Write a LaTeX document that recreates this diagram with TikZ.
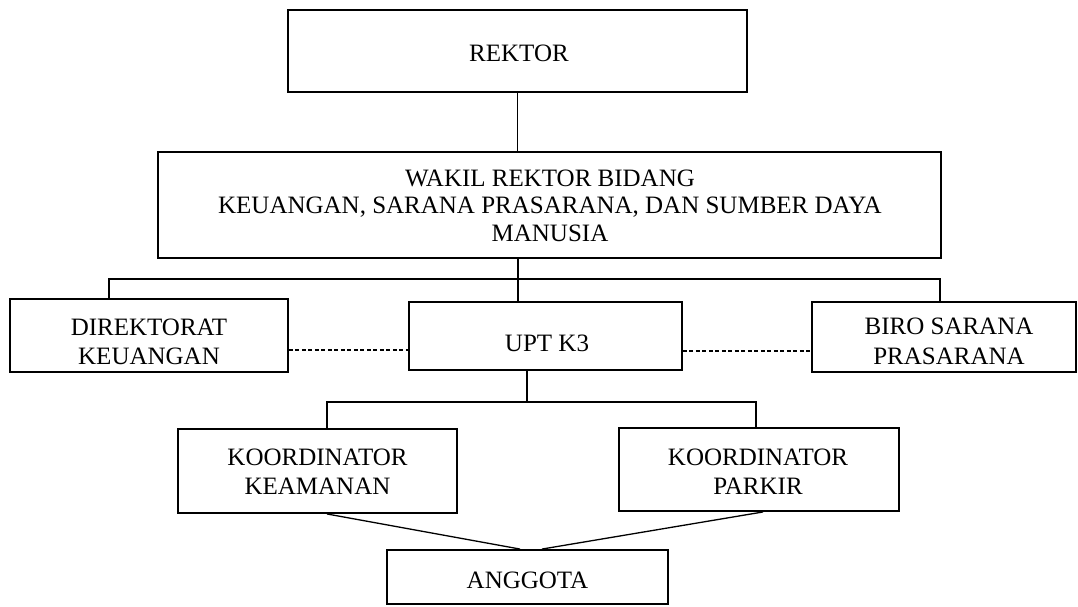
\documentclass[tikz,border=0pt]{standalone}
\usepackage{fontspec}
\setmainfont{Liberation Serif}
\begin{document}
\begin{tikzpicture}[x=1pt,y=-1pt,
  box/.style={draw=black, line width=1.9pt, rectangle, inner sep=0pt, fill=white},
  txt/.style={font=\fontsize{25}{29.5}\selectfont, align=center, inner sep=0pt},
  conn/.style={draw=black, line width=1.3pt},
  dconn/.style={draw=black, line width=1.3pt, dash pattern=on 4pt off 2.5pt}]
\useasboundingbox (0,0) rectangle (1078,606);
% boxes
\node[box, minimum width=459pt, minimum height=82pt] (rek) at (517.5,51) {};
\node[box, minimum width=783pt, minimum height=106pt] (wak) at (549.5,205) {};
\node[box, minimum width=278pt, minimum height=73pt] (dir) at (149,335.5) {};
\node[box, minimum width=273pt, minimum height=68pt] (upt) at (545.5,336) {};
\node[box, minimum width=264pt, minimum height=70pt] (biro) at (944,337) {};
\node[box, minimum width=279pt, minimum height=84pt] (kea) at (317.5,471) {};
\node[box, minimum width=280pt, minimum height=83pt] (par) at (759,469.5) {};
\node[box, minimum width=281pt, minimum height=54pt] (ang) at (527.5,577) {};
% texts
\node[txt] (rekt) at (519,53) {REKTOR};
\node[txt, font=\fontsize{25}{27.5}\selectfont] (wakt) at (550,205.5) {WAKIL REKTOR BIDANG\\KEUANGAN, SARANA PRASARANA, DAN SUMBER DAYA\\MANUSIA};
\node[txt] (dirt) at (149,342) {DIREKTORAT\\KEUANGAN};
\node[txt] (uptt) at (547,343.5) {UPT K3};
\node[txt] (birot) at (949,341.5) {BIRO SARANA\\PRASARANA};
\node[txt] (keat) at (317.5,471.5) {KOORDINATOR\\KEAMANAN};
\node[txt] (part) at (758,471.5) {KOORDINATOR\\PARKIR};
\node[txt] (angt) at (527.5,580) {ANGGOTA};
% coordinates
\coordinate (b1) at (518,279);
\coordinate (b1L) at (109,279);
\coordinate (b1R) at (940,279);
\coordinate (d1) at (0,350);
\coordinate (d2) at (0,351);
\coordinate (b2) at (527,402);
\coordinate (b2L) at (327,402);
\coordinate (b2R) at (756,402);
% connectors
\draw[conn] (rek.south) -- (rek.south |- wak.north);
\draw[conn] (b1 |- wak.south) -- (b1) -- (b1 |- upt.north);
\draw[conn] (b1L |- dir.north) -- (b1L) -- (b1R) -- (b1R |- biro.north);
\draw[dconn] (dir.east |- d1) -- (upt.west |- d1);
\draw[dconn] (upt.east |- d2) -- (biro.west |- d2);
\draw[conn] (b2 |- upt.south) -- (b2);
\draw[conn] (b2L |- kea.north) -- (b2L) -- (b2R) -- (b2R |- par.north);
\draw[conn] ([xshift=9.5pt]kea.south) -- ([xshift=-7.5pt]ang.north);
\draw[conn] ([xshift=4pt]par.south) -- ([xshift=14.5pt]ang.north);
\end{tikzpicture}
\end{document}
